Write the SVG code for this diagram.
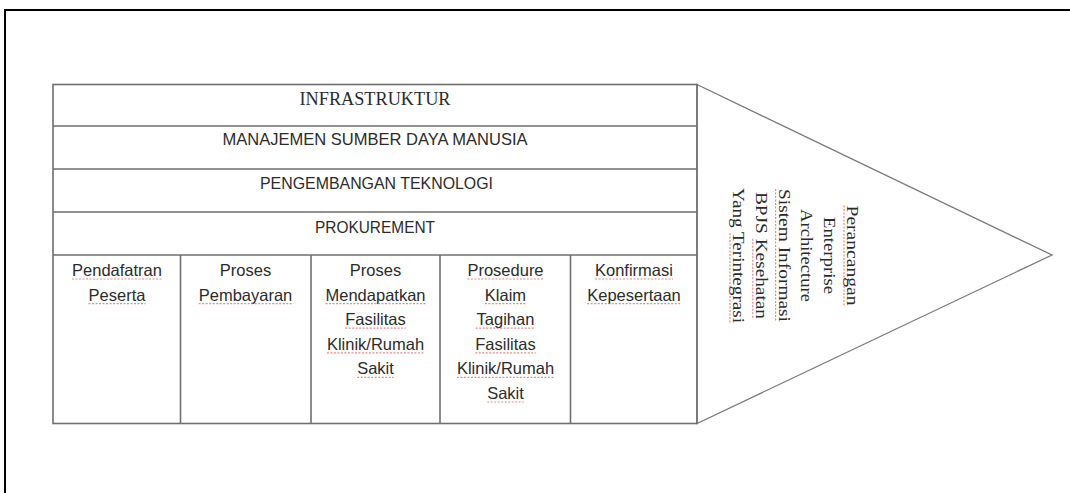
<svg xmlns="http://www.w3.org/2000/svg" width="1070" height="493" viewBox="0 0 1070 493">
  <style>
    .frame{stroke:#000;stroke-width:2;fill:none}
    .grid{stroke:#6f6f6f;stroke-width:1.6;fill:none}
    .tri{stroke:#7a7a7a;stroke-width:1.3;fill:#fff}
    .serif{font-family:"Liberation Serif","Times New Roman",serif;fill:#2b2b2b}
    .sans{font-family:"Liberation Sans",Arial,sans-serif;fill:#2b2b2b}
    .hd{font-size:16.5px;text-anchor:middle}
    .cell{font-size:16.5px;text-anchor:middle}
    .rot{font-size:16px;text-anchor:middle}
    .sp{stroke:#e06060;stroke-width:1.2;stroke-dasharray:2 1.5;opacity:.75;fill:none}
  </style>
  <rect width="1070" height="493" fill="#fff"/>
  <g id="frame">
    <path class="frame" d="M4 10 H1070 M5 10 V493"/>
  </g>
  <g id="triangle">
    <polygon class="tri" points="697,84.5 1052,255 697,423.5"/>
    <g transform="translate(847,255.5) rotate(90)" class="serif rot">
      <text x="0" y="0" textLength="100" lengthAdjust="spacingAndGlyphs">Perancangan</text>
      <text x="0" y="22.8" textLength="77" lengthAdjust="spacingAndGlyphs">Enterprise</text>
      <text x="0" y="45.6" textLength="93" lengthAdjust="spacingAndGlyphs">Architecture</text>
      <text x="0" y="68.4" textLength="133" lengthAdjust="spacingAndGlyphs">Sistem Informasi</text>
      <text x="0" y="91.2" textLength="127" lengthAdjust="spacingAndGlyphs">BPJS Kesehatan</text>
      <text x="0" y="114" textLength="135" lengthAdjust="spacingAndGlyphs">Yang Terintegrasi</text>
      <path class="sp" d="M-50 3 H50 M-66.5 71.4 H66.5 M-16.8 94.2 H63.5 M-22.5 117 H67.5"/>
    </g>
  </g>
  <g id="table-grid">
    <rect class="grid" x="53" y="84.5" width="644" height="339"/>
    <path class="grid" d="M53 126 H697 M53 169 H697 M53 212 H697 M53 255 H697 M180.5 255 V423.5 M311 255 V423.5 M440 255 V423.5 M570.5 255 V423.5"/>
  </g>
  <g id="infrastruktur">
    <text class="serif" x="375" y="105" font-size="18" text-anchor="middle" textLength="151" lengthAdjust="spacingAndGlyphs">INFRASTRUKTUR</text>
  </g>
  <g id="msdm">
    <text class="sans hd" x="375" y="145" textLength="305" lengthAdjust="spacingAndGlyphs">MANAJEMEN SUMBER DAYA MANUSIA</text>
  </g>
  <g id="teknologi">
    <text class="sans hd" x="376.5" y="188.5" textLength="233" lengthAdjust="spacingAndGlyphs">PENGEMBANGAN TEKNOLOGI</text>
  </g>
  <g id="prokurement">
    <text class="sans hd" x="375" y="233" textLength="120" lengthAdjust="spacingAndGlyphs">PROKUREMENT</text>
  </g>
  <g id="pendaftaran" class="sans cell">
    <text x="117" y="276">Pendafatran</text>
    <text x="117" y="300.6">Peserta</text>
    <path class="sp" d="M72 279 H162 M88.5 303.6 H145.5"/>
  </g>
  <g id="pembayaran" class="sans cell">
    <text x="245.5" y="276">Proses</text>
    <text x="245.5" y="300.6">Pembayaran</text>
    <path class="sp" d="M198.7 303.6 H292.3"/>
  </g>
  <g id="fasilitas" class="sans cell">
    <text x="375.5" y="276">Proses</text>
    <text x="375.5" y="300.6">Mendapatkan</text>
    <text x="375.5" y="325.2">Fasilitas</text>
    <text x="375.5" y="349.8">Klinik/Rumah</text>
    <text x="375.5" y="374.4">Sakit</text>
    <path class="sp" d="M325.5 303.6 H425.5 M345.2 328.2 H405.8 M326.9 352.8 H424.1 M357.2 377.4 H393.8"/>
  </g>
  <g id="klaim" class="sans cell">
    <text x="505.5" y="276">Prosedure</text>
    <text x="505.5" y="300.6">Klaim</text>
    <text x="505.5" y="325.2">Tagihan</text>
    <text x="505.5" y="349.8">Fasilitas</text>
    <text x="505.5" y="374.4">Klinik/Rumah</text>
    <text x="505.5" y="399">Sakit</text>
    <path class="sp" d="M467.4 279 H543.6 M484.9 303.6 H526.1 M475.7 328.2 H535.3 M475.2 352.8 H535.8 M456.9 377.4 H554.1 M487.2 402 H523.8"/>
  </g>
  <g id="konfirmasi" class="sans cell">
    <text x="634" y="276">Konfirmasi</text>
    <text x="634" y="300.6">Kepesertaan</text>
    <path class="sp" d="M595 279 H673 M587.2 303.6 H680.8"/>
  </g>
  <g id="connectors"/>
</svg>
